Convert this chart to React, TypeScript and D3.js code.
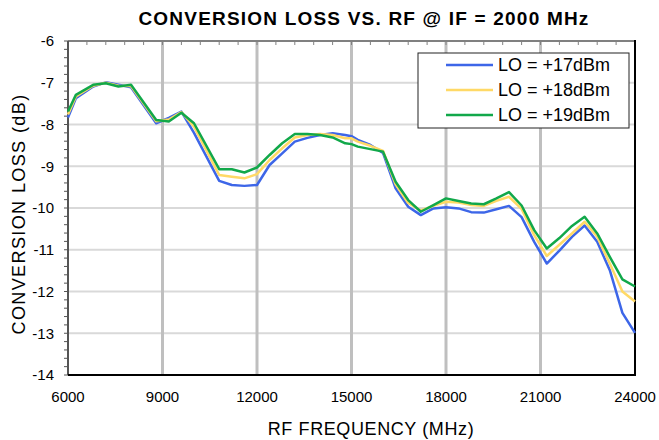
import React from "react";
import * as d3 from "d3";

const freqs = [6000, 6250, 6800, 7200, 7600, 8000, 8800, 9200, 9600, 10000, 10800, 11200, 11600, 12000, 12400, 12800, 13200, 13600, 14000, 14400, 14800, 15000, 15200, 15600, 16000, 16400, 16800, 17200, 17600, 18000, 18400, 18800, 19200, 19600, 20000, 20400, 20800, 21200, 21600, 22000, 22400, 22800, 23200, 23600, 24000];

const lo17 = [-7.83, -7.37, -7.09, -6.99, -7.05, -7.11, -7.97, -7.84, -7.69, -8.2, -9.35, -9.45, -9.47, -9.45, -8.97, -8.69, -8.41, -8.32, -8.25, -8.21, -8.25, -8.28, -8.37, -8.49, -8.68, -9.53, -9.97, -10.17, -10.01, -9.98, -10.01, -10.1, -10.11, -10.03, -9.95, -10.22, -10.81, -11.33, -11.02, -10.69, -10.42, -10.81, -11.49, -12.51, -12.99];
const lo18 = [-7.76, -7.33, -7.07, -7.0, -7.07, -7.08, -7.92, -7.88, -7.7, -8.05, -9.21, -9.25, -9.29, -9.19, -8.85, -8.57, -8.31, -8.25, -8.23, -8.25, -8.33, -8.33, -8.41, -8.51, -8.63, -9.43, -9.88, -10.06, -9.95, -9.85, -9.87, -9.93, -9.95, -9.83, -9.73, -10.02, -10.65, -11.15, -10.88, -10.61, -10.33, -10.69, -11.33, -12.0, -12.24];
const lo19 = [-7.69, -7.29, -7.05, -7.01, -7.09, -7.05, -7.89, -7.93, -7.72, -7.97, -9.07, -9.07, -9.15, -9.03, -8.73, -8.45, -8.23, -8.23, -8.25, -8.31, -8.45, -8.47, -8.53, -8.59, -8.65, -9.37, -9.81, -10.09, -9.93, -9.77, -9.83, -9.89, -9.91, -9.77, -9.62, -9.94, -10.53, -10.97, -10.72, -10.43, -10.21, -10.61, -11.17, -11.71, -11.88];

const seriesNames = ["LO = +17dBm", "LO = +18dBm", "LO = +19dBm"];
const seriesColors = ["#3d66e8", "#ffd966", "#11a84a"];
const xTicks = [6000, 9000, 12000, 15000, 18000, 21000, 24000];
const yTicks = [-6, -7, -8, -9, -10, -11, -12, -13, -14];

const W = 659, H = 440;
const L = 68, R = 635, T = 41, B = 375;
const FONT = "Arial, 'Liberation Sans', sans-serif";

export default function App() {
  const x = d3.scaleLinear().domain([6000, 24000]).range([L, R]);
  const y = d3.scaleLinear().domain([-14, -6]).range([B, T]);
  const series = [lo17, lo18, lo19];
  const line = d3.line<number>().x((_, i) => x(freqs[i])).y((d) => y(d));
  const yMinor = d3.range(-14, -6 + 0.001, 0.2);
  const xMinor = d3.range(6000, 24000 + 1, 600);

  return (
    <svg width={W} height={H} style={{ position: "absolute", left: 0, top: 0, background: "#fff" }} fontFamily={FONT}>
      <rect x={0} y={0} width={W} height={H} fill="#fff" />
      {yTicks.filter((v) => v > -14 && v < -6).map((v) => (
        <line key={"hg" + v} x1={L} x2={R} y1={y(v)} y2={y(v)} stroke="#d9d9d9" strokeWidth={2} />
      ))}
      {xTicks.filter((v) => v > 6000 && v < 24000).map((v) => (
        <line key={"vg" + v} x1={x(v)} x2={x(v)} y1={T} y2={B} stroke="#bfbfbf" strokeWidth={3} />
      ))}
      <line x1={L} x2={R} y1={T} y2={T} stroke="#808080" strokeWidth={2} />
      {xMinor.map((v) => (
        <line key={"xm" + v} x1={x(v)} x2={x(v)} y1={T} y2={T + 4} stroke="#808080" strokeWidth={1} />
      ))}
      {yMinor.map((v, i) => (
        <line key={"ym" + i} x1={L - 4} x2={L} y1={y(v)} y2={y(v)} stroke="#555" strokeWidth={1} />
      ))}
      <line x1={L} x2={L} y1={T} y2={B} stroke="#555" strokeWidth={2} />
      <line x1={R} x2={R} y1={T - 1} y2={B} stroke="#000" strokeWidth={2} />
      <line x1={L} x2={R + 1} y1={B} y2={B} stroke="#000" strokeWidth={2} />

      {series.map((s, i) => (
        <path key={"s" + i} d={line(s) || ""} fill="none" stroke={seriesColors[i]} strokeWidth={2.5} strokeLinejoin="round" />
      ))}

      {yTicks.map((v) => (
        <text key={"yt" + v} x={L - 14} y={y(v)} dy="0.35em" textAnchor="end" fontSize={15} fill="#000">{v}</text>
      ))}
      {xTicks.map((v) => (
        <text key={"xt" + v} x={x(v)} y={402} textAnchor="middle" fontSize={15} fill="#000">{v}</text>
      ))}

      <text x={364} y={25} textAnchor="middle" fontSize={19} fontWeight="bold" letterSpacing={1.2} fill="#000">CONVERSION LOSS VS. RF @ IF = 2000 MHz</text>
      <text x={371} y={435} textAnchor="middle" fontSize={18} letterSpacing={0.6} fill="#000">RF FREQUENCY (MHz)</text>
      <text transform={`translate(25,214) rotate(-90)`} textAnchor="middle" fontSize={18} letterSpacing={1.4} fill="#000">CONVERSION LOSS (dB)</text>

      <rect x={418} y={53} width={211} height={75} fill="#fff" stroke="#222" strokeWidth={1} />
      {seriesNames.map((n, i) => (
        <g key={"lg" + i}>
          <line x1={446} x2={493} y1={65 + i * 25} y2={65 + i * 25} stroke={seriesColors[i]} strokeWidth={2.5} />
          <text x={498} y={65 + i * 25} dy="0.35em" fontSize={18} fill="#000">{n}</text>
        </g>
      ))}
    </svg>
  );
}
